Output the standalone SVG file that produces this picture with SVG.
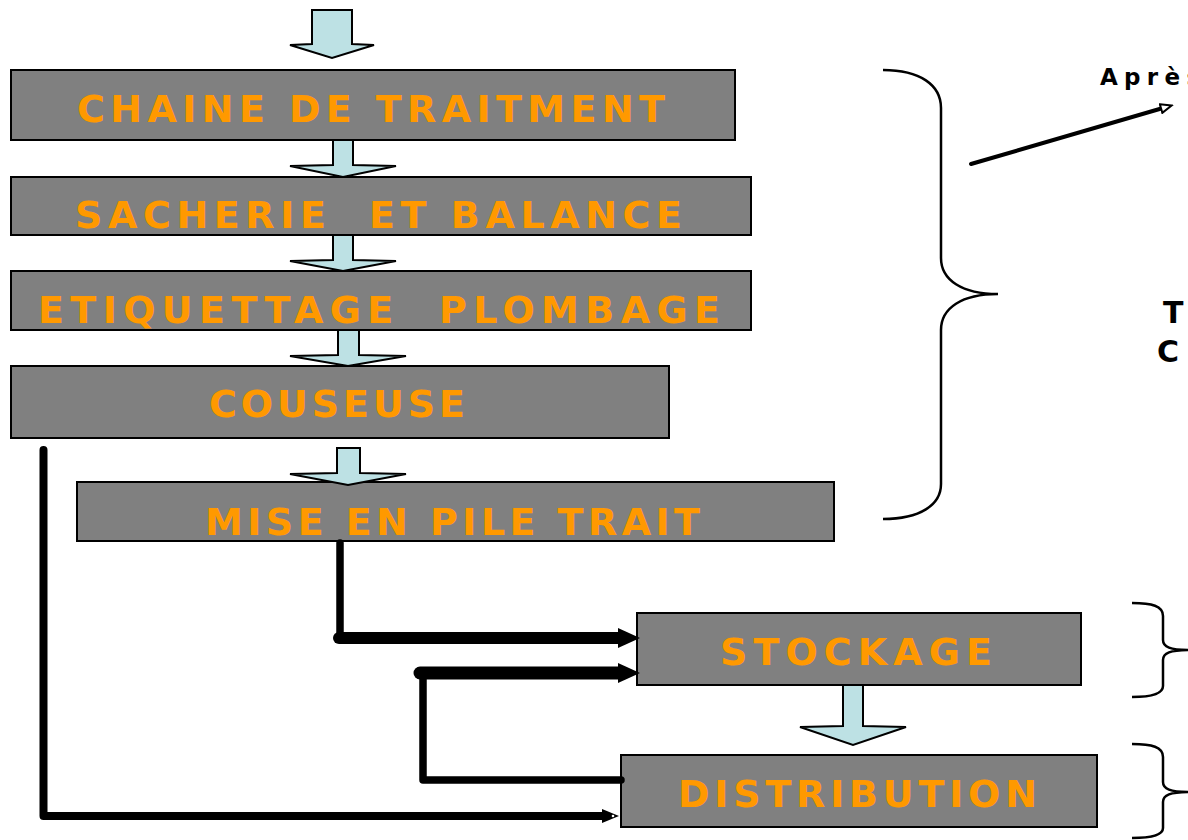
<svg xmlns="http://www.w3.org/2000/svg" width="1188" height="840" viewBox="0 0 1188 840">
<defs>
<style>
.box{fill:#808080;stroke:#000;stroke-width:2}
.lbl{font-family:"DejaVu Sans","Liberation Sans",sans-serif;font-weight:bold;font-size:38px;fill:#FF9900;white-space:pre}
.blk{fill:#BDE1E4;stroke:#000;stroke-width:2;stroke-linejoin:miter}
.brace{fill:none;stroke:#000;stroke-width:2.5}
.conn{fill:none;stroke:#000;stroke-linecap:round;stroke-linejoin:round}
.side{font-family:"DejaVu Sans","Liberation Sans",sans-serif;font-weight:bold;fill:#000}
</style>
<marker id="headBig" markerUnits="userSpaceOnUse" markerWidth="22" markerHeight="22" viewBox="0 0 22 22" refX="3" refY="11" orient="auto">
<path d="M0,1 L22,11 L0,21 Z" fill="#000"/>
</marker>
<marker id="headSmall" markerUnits="userSpaceOnUse" markerWidth="18" markerHeight="16" viewBox="0 0 18 16" refX="2" refY="8" orient="auto">
<path d="M0,1 L17,8 L0,15 Z" fill="#000"/>
<circle cx="11" cy="8" r="1.3" fill="#fff"/>
</marker>
<marker id="headOpen" markerUnits="userSpaceOnUse" markerWidth="14" markerHeight="12" viewBox="0 0 14 12" refX="3" refY="6" orient="auto">
<path d="M1,1.5 L12,6 L1,10.5 Z" fill="#fff" stroke="#000" stroke-width="2"/>
</marker>
</defs>
<rect width="1188" height="840" fill="#fff"/>

<g id="brace-main"><path class="brace" d="M883,70 C920,70 941,85 941,108 L941,258 C941,280 962,294 998,294 C962,294 941,308 941,330 L941,484 C941,505 920,519 883,519"/></g>
<g id="brace-stockage"><path class="brace" d="M1132,603 C1152,603 1163,606 1163,616 L1163,640 C1163,647 1170,650 1190,650 C1170,650 1163,653 1163,660 L1163,686 C1163,694 1152,697 1132,697"/></g>
<g id="brace-distribution"><path class="brace" d="M1132,744 C1152,744 1163,747 1163,757 L1163,782 C1163,789 1170,792 1190,792 C1170,792 1163,795 1163,802 L1163,828 C1163,835 1152,838 1132,838"/></g>

<g id="note-apres"><text class="side" x="1100" y="85" font-size="23" letter-spacing="6.3" font-family="Liberation Sans, Arial, sans-serif">Après</text></g>
<g id="note-t"><text class="side" x="1163" y="323" font-size="30">T</text></g>
<g id="note-c"><text class="side" x="1157" y="362" font-size="30">C</text></g>

<g id="n-chaine"><rect class="box" x="11" y="70" width="724" height="70"/><text class="lbl" x="77" y="122" textLength="588" lengthAdjust="spacing">CHAINE DE TRAITMENT</text></g>
<g id="n-sacherie"><rect class="box" x="11" y="177" width="740" height="58"/><text class="lbl" x="75" y="228" textLength="607" lengthAdjust="spacing">SACHERIE  ET BALANCE</text></g>
<g id="n-etiquettage"><rect class="box" x="11" y="271" width="740" height="59"/><text class="lbl" x="38" y="323" textLength="682" lengthAdjust="spacing">ETIQUETTAGE  PLOMBAGE</text></g>
<g id="n-couseuse"><rect class="box" x="11" y="366" width="658" height="72"/><text class="lbl" x="209" y="417" textLength="256" lengthAdjust="spacing">COUSEUSE</text></g>
<g id="n-mise"><rect class="box" x="77" y="482" width="757" height="59"/><text class="lbl" x="205" y="535" textLength="495" lengthAdjust="spacing">MISE EN PILE TRAIT</text></g>
<g id="n-stockage"><rect class="box" x="637" y="613" width="444" height="72"/><text class="lbl" x="720" y="665" textLength="272" lengthAdjust="spacing">STOCKAGE</text></g>
<g id="n-distribution"><rect class="box" x="621" y="755" width="476" height="72"/><text class="lbl" x="678" y="807" textLength="359" lengthAdjust="spacing">DISTRIBUTION</text></g>

<g id="connectors">
<path class="blk" d="M312,10 L352,10 L352,44 L374,45 L332,58 L290,45 L312,44 Z"/>
<path class="blk" d="M333,140 L353,140 L353,165 L396,166 L343,177 L290,166 L333,165 Z"/>
<path class="blk" d="M333,235 L353,235 L353,260 L396,261 L343,271 L290,261 L333,260 Z"/>
<path class="blk" d="M338,330 L359,330 L359,355 L406,356 L348,366 L290,356 L338,355 Z"/>
<path class="blk" d="M337,448 L360,448 L360,473 L406,474 L348,485 L290,474 L337,473 Z"/>
<path class="blk" d="M843,685 L863,685 L863,726 L906,727 L853,745 L800,727 L843,726 Z"/>

<path class="conn" d="M340,543 V638" stroke-width="7.5" stroke-linecap="butt"/>
<path class="conn" d="M339,638 H621" stroke-width="12" marker-end="url(#headBig)"/>
<path class="conn" d="M621,780 H423 V673" stroke-width="7.5"/>
<path class="conn" d="M420,673 H621" stroke-width="13" marker-end="url(#headBig)"/>
<path class="conn" d="M43.5,450 V816 H604" stroke-width="8" stroke-linejoin="miter" stroke-linecap="butt" marker-end="url(#headSmall)"/>
<path class="conn" d="M971,164 L1163,108" stroke-width="4" stroke-linecap="butt" marker-end="url(#headOpen)"/>
</g>
</svg>
